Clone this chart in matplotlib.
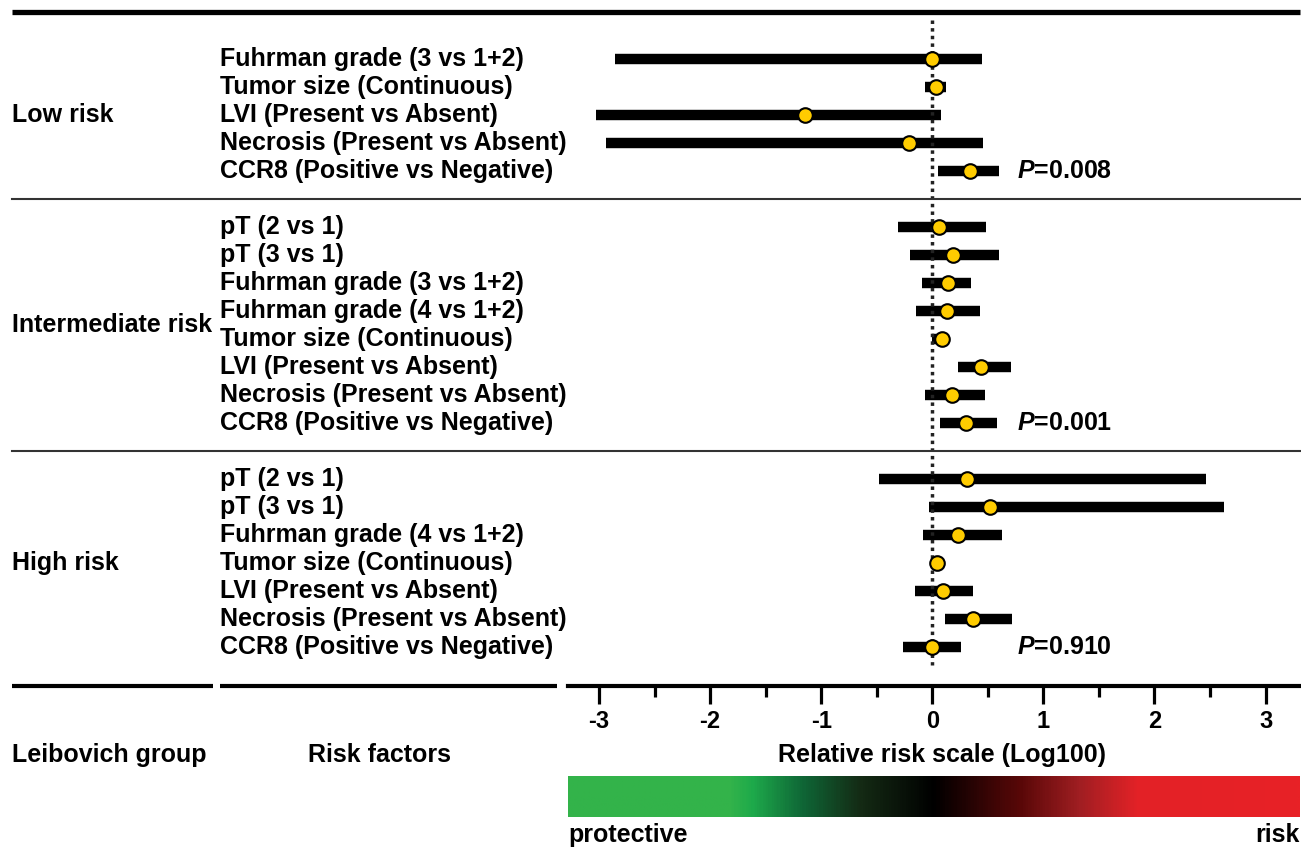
import numpy as np
import matplotlib
matplotlib.use('Agg')
import matplotlib.pyplot as plt
from matplotlib.colors import LinearSegmentedColormap
from matplotlib.transforms import blended_transform_factory
from matplotlib.lines import Line2D

plt.rcParams['font.family'] = ['Liberation Sans', 'DejaVu Sans']
plt.rcParams['font.weight'] = 'bold'
plt.rcParams['axes.unicode_minus'] = False
plt.rcParams['mathtext.fontset'] = 'custom'
plt.rcParams['mathtext.it'] = 'Liberation Sans:bold:italic'
plt.rcParams['mathtext.rm'] = 'Liberation Sans:bold'

# data (log100 relative risk)
groups = ['Low risk', 'Intermediate risk', 'High risk']
p_values = ['0.008', '0.001', '0.910']

low_factors = ['Fuhrman grade (3 vs 1+2)', 'Tumor size (Continuous)', 'LVI (Present vs Absent)',
               'Necrosis (Present vs Absent)', 'CCR8 (Positive vs Negative)']
low_est = [0.00, 0.03, -1.15, -0.21, 0.34]
low_lo = [-2.86, -0.07, -3.03, -2.94, 0.05]
low_hi = [0.45, 0.12, 0.08, 0.46, 0.60]

mid_factors = ['pT (2 vs 1)', 'pT (3 vs 1)', 'Fuhrman grade (3 vs 1+2)', 'Fuhrman grade (4 vs 1+2)',
               'Tumor size (Continuous)', 'LVI (Present vs Absent)', 'Necrosis (Present vs Absent)',
               'CCR8 (Positive vs Negative)']
mid_est = [0.06, 0.19, 0.14, 0.13, 0.09, 0.44, 0.18, 0.30]
mid_lo = [-0.31, -0.20, -0.09, -0.15, 0.00, 0.23, -0.07, 0.07]
mid_hi = [0.48, 0.60, 0.35, 0.43, 0.12, 0.71, 0.47, 0.58]

high_factors = ['pT (2 vs 1)', 'pT (3 vs 1)', 'Fuhrman grade (4 vs 1+2)', 'Tumor size (Continuous)',
                'LVI (Present vs Absent)', 'Necrosis (Present vs Absent)', 'CCR8 (Positive vs Negative)']
high_est = [0.31, 0.52, 0.23, 0.04, 0.10, 0.37, 0.00]
high_lo = [-0.48, -0.03, -0.08, 0.02, -0.16, 0.11, -0.26]
high_hi = [2.46, 2.63, 0.63, 0.07, 0.37, 0.72, 0.26]

all_factors = [low_factors, mid_factors, high_factors]
all_est = [low_est, mid_est, high_est]
all_lo = [low_lo, mid_lo, high_lo]
all_hi = [low_hi, mid_hi, high_hi]

W, H = 1301, 848
fig = plt.figure(figsize=(W / 100, H / 100), dpi=100)


def fx(px):
    return px / W


def fy(py):
    return 1 - py / H


ax = fig.add_axes([fx(568), fy(686), fx(1300) - fx(568), fy(12) - fy(686)])
ax.set_xlim(-3.28, 3.31)
ax.set_ylim(22.39, -1.68)
trans = blended_transform_factory(fig.transFigure, ax.transData)

FS = 18
start = 0
seps = []
for g, name in enumerate(groups):
    n = len(all_factors[g])
    rows = np.arange(start, start + n)
    ax.hlines(rows, all_lo[g], all_hi[g], color='black', lw=7.5, zorder=2)
    ax.plot(all_est[g], rows, 'o', ms=10.5, mfc='#FFCC00', mec='black', mew=1.5, zorder=4)
    for r, f in zip(rows, all_factors[g]):
        ax.text(fx(220), r, f, transform=trans, ha='left', va='center', fontsize=FS, clip_on=False)
    ax.text(fx(12), rows.mean(), name, transform=trans, ha='left', va='center', fontsize=FS, clip_on=False)
    ax.text(0.76, rows[-1], r'$P$=' + p_values[g], ha='left', va='center', fontsize=FS)
    start += n + 1
    if g < len(groups) - 1:
        seps.append(start - 1)

ax.vlines(0, -1.4, 21.65, colors='#222222', linestyles=(0, (1, 1.2)), lw=2.5, zorder=3)

for s in seps:
    fig.add_artist(Line2D([fx(12), fx(1300)], [s, s], transform=trans, color='#333333', lw=1.5))
fig.add_artist(Line2D([fx(12), fx(1300)], [fy(12), fy(12)], transform=fig.transFigure,
                      color='black', lw=3.8, solid_capstyle='butt'))
fig.add_artist(Line2D([fx(12), fx(213)], [fy(686), fy(686)], transform=fig.transFigure,
                      color='black', lw=3, solid_capstyle='butt'))
fig.add_artist(Line2D([fx(220), fx(557)], [fy(686), fy(686)], transform=fig.transFigure,
                      color='black', lw=3, solid_capstyle='butt'))

for side in ['top', 'left', 'right']:
    ax.spines[side].set_visible(False)
ax.spines['bottom'].set_linewidth(3)
ax.set_yticks([])
ax.set_xticks(range(-3, 4))
ax.set_xticks(np.arange(-2.5, 3.0, 1.0), minor=True)
ax.tick_params(axis='x', which='major', length=13, width=2.3, pad=4, labelsize=17)
ax.tick_params(axis='x', which='minor', length=8, width=2.3)
for lab in ax.get_xticklabels():
    lab.set_fontweight('bold')

fig.text(fx(942), fy(755), 'Relative risk scale (Log100)', ha='center', va='center', fontsize=FS)
fig.text(fx(12), fy(755), 'Leibovich group', ha='left', va='center', fontsize=FS)
fig.text(fx(380), fy(755), 'Risk factors', ha='center', va='center', fontsize=FS)

# colour bar below the axis
cmap = LinearSegmentedColormap.from_list('prot_risk', [
    (0.0, '#33B34A'), (0.22, '#33B34A'), (0.25, '#1EAA4B'), (0.32, '#0F6636'),
    (0.40, '#142A14'), (0.50, '#000000'), (0.62, '#5A0808'), (0.70, '#A01E22'),
    (0.78, '#E32227'), (1.0, '#E82126')])
gax = fig.add_axes([fx(568), fy(817), fx(1300) - fx(568), fy(776) - fy(817)])
gax.imshow(np.linspace(0, 1, 600)[None, :], aspect='auto', cmap=cmap)
gax.axis('off')
fig.text(fx(568), fy(835), 'protective', ha='left', va='center', fontsize=FS)
fig.text(fx(1300), fy(835), 'risk', ha='right', va='center', fontsize=FS)

plt.savefig('out.png', dpi=100)
